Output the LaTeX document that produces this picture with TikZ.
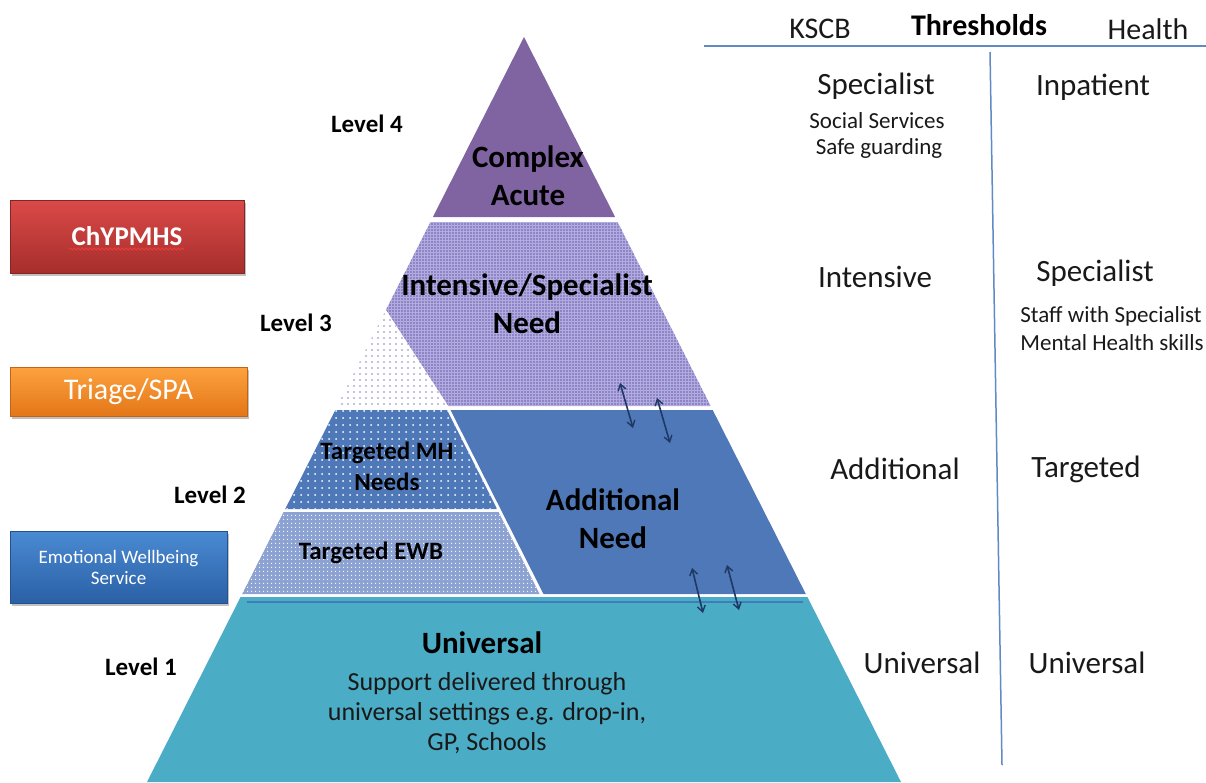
\documentclass[tikz,border=0pt]{standalone}
\usepackage{fontspec}
\setmainfont{Carlito}
\usetikzlibrary{arrows.meta,patterns.meta,shadows,decorations.pathmorphing}

\definecolor{lvlfour}{RGB}{128,100,162}
\definecolor{lvlthree}{RGB}{178,172,222}
\definecolor{lvlthreehatch}{RGB}{104,94,178}
\definecolor{lvlthreedot}{RGB}{140,130,200}
\definecolor{addblue}{RGB}{79,120,184}
\definecolor{ewbblue}{RGB}{140,162,210}
\definecolor{teal}{RGB}{75,172,198}
\definecolor{tealline}{RGB}{62,125,185}
\definecolor{navy}{RGB}{31,56,100}
\definecolor{rulecol}{RGB}{95,138,196}
\definecolor{redtop}{RGB}{218,74,72}
\definecolor{redbot}{RGB}{166,46,44}
\definecolor{orgtop}{RGB}{252,162,62}
\definecolor{orgbot}{RGB}{228,118,24}
\definecolor{blutop}{RGB}{74,138,210}
\definecolor{blubot}{RGB}{42,96,166}
\definecolor{txt}{RGB}{25,25,25}
\definecolor{squiggle}{RGB}{235,60,60}

\begin{document}
\begin{tikzpicture}[x=1pt,y=-1pt,
  big/.style={inner sep=0pt, text=txt, align=center, font=\fontsize{31}{38}\selectfont},
  small/.style={inner sep=0pt, text=txt, align=center, font=\fontsize{23}{28}\selectfont},
  bigbold/.style={inner sep=0pt, text=black, align=center, font=\fontsize{31}{38}\selectfont\bfseries},
  midbold/.style={inner sep=0pt, text=black, align=center, font=\fontsize{25}{31}\selectfont\bfseries},
  lvl/.style={inner sep=0pt, text=black, font=\fontsize{25}{30}\selectfont\bfseries},
  sidebox/.style={rectangle, inner sep=0pt, text=white, align=center,
    drop shadow={shadow xshift=1.5pt, shadow yshift=-2.5pt, opacity=0.35, fill=black!70}},
  dblarrow/.style={{Straight Barb[length=6pt,width=8pt,line width=1.4pt]}-{Straight Barb[length=6pt,width=8pt,line width=1.4pt]},
    line width=1.6pt, draw=navy},
  rule/.style={draw=rulecol, line width=1.5pt}
]
\useasboundingbox (0,0) rectangle (1206,782);

% ---------- pyramid ----------
% level 4
\fill[lvlfour] (524,37) -- (615.1,217) -- (432.9,217) -- cycle;
% level 3: intensive / specialist band (fine hatch) and the dotted corner
\fill[lvlthree, postaction={pattern={Dots[distance=3pt, radius=0.9pt]}, pattern color=lvlthreehatch}]
  (430.4,222) -- (617.6,222) -- (710.7,406) -- (448,406) -- (385.9,310) -- cycle;
\fill[white, postaction={pattern={Dots[distance=6pt, radius=0.8pt]}, pattern color=lvlthreedot}]
  (385.9,310) -- (448,406) -- (337.3,406) -- cycle;
% level 2: targeted MH needs, targeted EWB, additional need
\fill[addblue, postaction={pattern={Dots[distance=7pt, radius=1pt]}, pattern color=white}]
  (335.3,410) -- (447,410) -- (497.1,509) -- (285.2,509) -- cycle;
\fill[ewbblue, postaction={pattern={Dots[distance=4pt, radius=0.8pt]}, pattern color=white}]
  (283.6,512) -- (498.6,512) -- (539.5,594) -- (242.2,594) -- cycle;
\fill[addblue] (450.5,410) -- (712.7,410) -- (805.8,594) -- (543.5,594) -- cycle;
% level 1
\fill[teal] (240.6,597) -- (807.4,597) -- (901,782) -- (147,782) -- cycle;
\draw[draw=tealline, line width=1.8pt] (247,602) -- (803,602);

% ---------- pyramid texts ----------
\node[bigbold] (complex) at (528,176) {Complex\\Acute};
\node[bigbold] (intensive) at (527,304) {Intensive/Specialist\\Need};
\node[midbold] (tmh) at (387,466) {Targeted MH\\Needs};
\node[midbold] (tewb) at (371,553) {Targeted EWB};
\node[bigbold] (addneed) at (613,519) {Additional\\Need};
\node[bigbold] (univ) at (482,643) {Universal};
\node[inner sep=0pt, text=txt, align=center, font=\fontsize{26}{30}\selectfont]
  (univtxt) at (487,713) {Support delivered through\\universal settings e.g. drop-in,\\GP, Schools};

% ---------- level labels ----------
\node[lvl] (l4) at (367,124) {Level 4};
\node[lvl] (l3) at (296,323) {Level 3};
\node[lvl] (l2) at (210,495) {Level 2};
\node[lvl] (l1) at (141,667) {Level 1};

% ---------- movement arrows between levels ----------
\coordinate (a1t) at (620,383); \coordinate (a1b) at (633,428);
\coordinate (a2t) at (657,398); \coordinate (a2b) at (670,443);
\coordinate (a3t) at (692,568); \coordinate (a3b) at (703,613);
\coordinate (a4t) at (727,565); \coordinate (a4b) at (739,610);
\draw[dblarrow] (a1t) -- (a1b);
\draw[dblarrow] (a2t) -- (a2b);
\draw[dblarrow] (a3t) -- (a3b);
\draw[dblarrow] (a4t) -- (a4b);

% ---------- service boxes ----------
\node[sidebox, minimum width=234pt, minimum height=73pt, top color=redtop, bottom color=redbot,
  draw=redbot!80!black, line width=0.6pt, font=\fontsize{27}{32}\selectfont\bfseries]
  (chyp) at (127,236.5) {ChYPMHS};
\draw[squiggle, line width=1pt, decorate,
  decoration={snake, amplitude=1pt, segment length=4pt}] (69,249) -- (184,249);
\node[sidebox, minimum width=237pt, minimum height=49pt, top color=orgtop, bottom color=orgbot,
  draw=orgbot!85!black, line width=0.6pt, font=\fontsize{30}{34}\selectfont]
  (triage) at (128.5,391.5) {Triage/SPA};
\node[sidebox, minimum width=217pt, minimum height=72pt, top color=blutop, bottom color=blubot,
  draw=blubot!85!black, line width=0.6pt, font=\fontsize{19}{21}\selectfont]
  (ewb) at (118.5,567) {Emotional Wellbeing\\Service};

% ---------- thresholds table ----------
\draw[rule] (704,46) -- (1206,46);
\draw[rule] (990,52) -- (1002,765);
\node[big, font=\fontsize{30}{36}\selectfont] (kscb) at (820,29) {KSCB};
\node[inner sep=0pt, text=black, font=\fontsize{30}{36}\selectfont\bfseries] (thr) at (979,25) {Thresholds};
\node[big, font=\fontsize{30}{36}\selectfont] (health) at (1148,29) {Health};

\node[big] (kspec) at (876,86) {Specialist};
\node[small] (social) at (877,121) {Social Services};
\node[small] (safe) at (879,148) {Safe guarding};
\node[big] (inpat) at (1093,87) {Inpatient};

\node[big] (kint) at (875,277) {Intensive};
\node[big] (hspec) at (1095,273) {Specialist};
\node[small] (staff) at (1111,316) {Staff with Specialist};
\node[small] (mental) at (1112,343) {Mental Health skills};

\node[big] (kadd) at (895,469) {Additional};
\node[big] (htarg) at (1086,469) {Targeted};

\node[big] (kuni) at (922,663) {Universal};
\node[big] (huni) at (1087,663) {Universal};
\end{tikzpicture}
\end{document}
